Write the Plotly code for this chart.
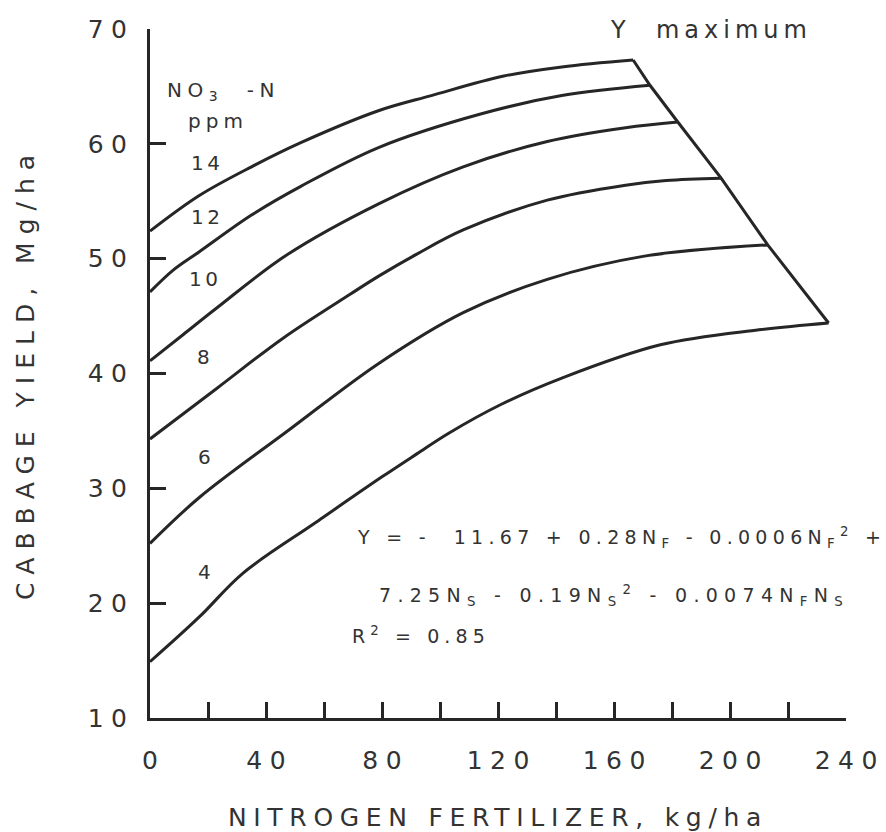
import plotly.graph_objects as go

# ---- data ----
no3_levels = ["14", "12", "10", "8", "6", "4"]

nitrogen_14 = [0, 17, 35, 52, 79, 97, 122, 142, 166.6]
yield_14 = [52.4, 55.5, 58.0, 60.1, 62.9, 64.2, 65.9, 66.7, 67.3]

nitrogen_12 = [0, 8, 17, 35, 52, 79, 114, 142, 172.4]
yield_12 = [47.1, 49.0, 50.6, 53.8, 56.3, 59.7, 62.6, 64.2, 65.1]

nitrogen_10 = [0, 11.5, 23, 47, 79, 108, 137, 164, 182]
yield_10 = [41.1, 43.4, 45.7, 50.3, 54.8, 58.0, 60.2, 61.4, 61.9]

nitrogen_8 = [0, 23, 46, 69, 79, 92, 108, 137, 164, 178, 197]
yield_8 = [34.3, 38.7, 43.1, 46.9, 48.5, 50.4, 52.5, 55.1, 56.4, 56.8, 57.0]

nitrogen_6 = [0, 17, 48, 79, 108, 137, 170, 213]
yield_6 = [25.2, 29.2, 35.1, 40.9, 45.3, 48.2, 50.2, 51.2]

nitrogen_4 = [0, 17, 32, 57, 80, 92, 103, 121, 142, 176, 210, 234]
yield_4 = [14.9, 18.8, 22.6, 27.0, 31.0, 33.0, 34.8, 37.3, 39.6, 42.5, 43.8, 44.4]

# curve-label anchor positions (kg/ha, Mg/ha)
label_x = [19.6, 19.6, 19.0, 19.0, 19.3, 19.3]
label_y = [58.3, 53.6, 48.2, 41.4, 32.7, 22.7]

x_tickvals = [0, 40, 80, 120, 160, 200, 240]
x_ticklabels = ["0", "40", "80", "120", "160", "200", "240"]
y_tickvals = [10, 20, 30, 40, 50, 60, 70]
y_ticklabels = ["10", "20", "30", "40", "50", "60", "70"]

series_x = [nitrogen_14, nitrogen_12, nitrogen_10, nitrogen_8, nitrogen_6, nitrogen_4]
series_y = [yield_14, yield_12, yield_10, yield_8, yield_6, yield_4]

INK = "#262626"
TXT = "#333333"
FONT = "DejaVu Sans"
GAP = "\u2009\u200a"


def sp(text, px):
    return f'<span style="letter-spacing:{px}px">{text}</span>'


def spaced(t):
    return GAP.join(list(t))


fig = go.Figure()

for name, xs, ys in zip(no3_levels, series_x, series_y):
    fig.add_trace(go.Scatter(
        x=xs, y=ys, mode="lines", name=f"{name} ppm",
        line=dict(color=INK, width=3, shape="spline", smoothing=1.0),
        showlegend=False, hoverinfo="x+y",
    ))

# Y maximum line through the end points of the curves
ymax_x = [xs[-1] for xs in series_x]
ymax_y = [ys[-1] for ys in series_y]
fig.add_trace(go.Scatter(
    x=ymax_x, y=ymax_y, mode="lines", name="Y maximum",
    line=dict(color=INK, width=3), showlegend=False,
))

annotations = []
for name, lx, ly in zip(no3_levels, label_x, label_y):
    annotations.append(dict(
        x=lx, y=ly, xref="x", yref="y", text=sp(name, 3.5), showarrow=False,
        xanchor="center", yanchor="middle",
        font=dict(family=FONT, size=20, color=TXT),
    ))

annotations += [
    dict(x=5.3, y=64.6, xref="x", yref="y", text=sp("NO<sub>3</sub>  -N", 5.5),
         showarrow=False, xanchor="left", yanchor="middle",
         font=dict(family=FONT, size=20, color=TXT)),
    dict(x=23.5, y=62.0, xref="x", yref="y", text=sp("ppm", 5),
         showarrow=False, xanchor="center", yanchor="middle",
         font=dict(family=FONT, size=20, color=TXT)),
    dict(x=158, y=69.9, xref="x", yref="y", text=sp("Y  maximum", 5.0),
         showarrow=False, xanchor="left", yanchor="middle",
         font=dict(family=FONT, size=24, color=TXT)),
    dict(x=70.7, y=25.7, xref="x", yref="y",
         text=sp("Y = -  11.67 + 0.28N<sub>F</sub> - 0.0006N<sub>F</sub><sup>2</sup> +", 5.3),
         showarrow=False, xanchor="left", yanchor="middle",
         font=dict(family=FONT, size=19, color=TXT)),
    dict(x=78.3, y=20.7, xref="x", yref="y",
         text=sp("7.25N<sub>S</sub> - 0.19N<sub>S</sub><sup>2</sup> - 0.0074N<sub>F</sub>N<sub>S</sub>", 6.3),
         showarrow=False, xanchor="left", yanchor="middle",
         font=dict(family=FONT, size=19, color=TXT)),
    dict(x=69.0, y=17.2, xref="x", yref="y",
         text=sp("R<sup>2</sup> = 0.85", 5.1),
         showarrow=False, xanchor="left", yanchor="middle",
         font=dict(family=FONT, size=19, color=TXT)),
]

fig.update_layout(
    width=886, height=832,
    margin=dict(l=150, r=40, t=29, b=114, autoexpand=False),
    paper_bgcolor="white", plot_bgcolor="white",
    font=dict(family=FONT, color=TXT),
    annotations=annotations,
    xaxis=dict(
        range=[0, 240], showgrid=False, zeroline=False, automargin=False,
        showline=True, linecolor=INK, linewidth=3,
        ticks="inside", ticklen=16, tickwidth=3, tickcolor=INK,
        tickvals=x_tickvals, ticktext=[spaced(t) for t in x_ticklabels],
        minor=dict(tickmode="linear", tick0=0, dtick=20, ticks="inside",
                   ticklen=16, tickwidth=3, tickcolor=INK, showgrid=False),
        tickfont=dict(family=FONT, size=25, color=TXT),
        ticklabelstandoff=18,
        title=dict(text=sp("NITROGEN FERTILIZER, kg/ha", 6.7),
                   font=dict(family=FONT, size=25, color=TXT), standoff=38),
    ),
    yaxis=dict(
        range=[10, 70], showgrid=False, zeroline=False, automargin=False,
        showline=True, linecolor=INK, linewidth=3,
        ticks="inside", ticklen=16, tickwidth=3, tickcolor=INK,
        tickvals=y_tickvals, ticktext=[spaced(t) for t in y_ticklabels],
        tickfont=dict(family=FONT, size=25, color=TXT),
        ticklabelstandoff=15,
        title=dict(text=sp("CABBAGE YIELD, Mg/ha", 8.0),
                   font=dict(family=FONT, size=25, color=TXT), standoff=46),
    ),
)

fig.write_html("out.html")
